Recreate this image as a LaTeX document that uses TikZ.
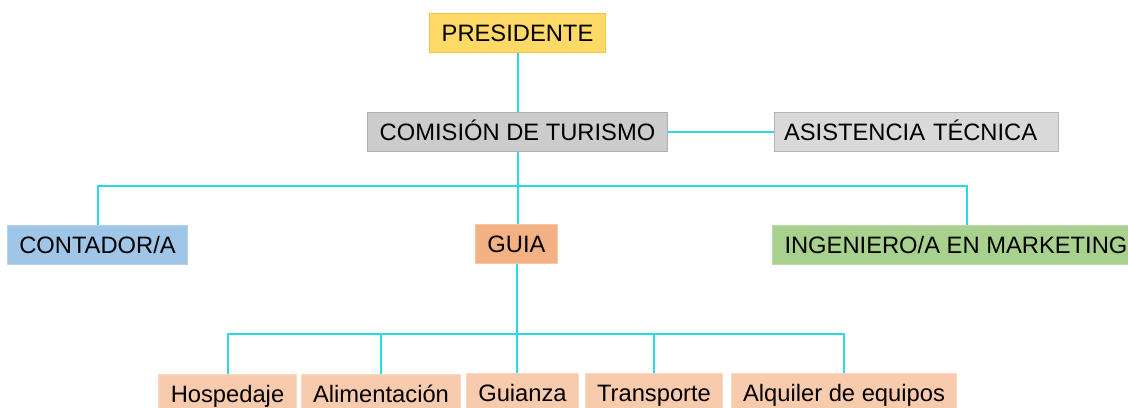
\documentclass[tikz,border=0pt]{standalone}
\usepackage{fontspec}
\setmainfont{Liberation Sans}
\usetikzlibrary{positioning}
\definecolor{linkcyan}{RGB}{43,218,228}
\definecolor{presfill}{HTML}{FFD966}
\definecolor{presline}{HTML}{F4C542}
\definecolor{comfill}{HTML}{CCCCCC}
\definecolor{comline}{HTML}{AFAFAF}
\definecolor{asisfill}{HTML}{D9D9D9}
\definecolor{asisline}{HTML}{B5B5B5}
\definecolor{contfill}{HTML}{9FC5E8}
\definecolor{contline}{HTML}{B4D2EE}
\definecolor{guiafill}{HTML}{F4B183}
\definecolor{guialine}{HTML}{F8C9A6}
\definecolor{ingfill}{HTML}{A9D18E}
\definecolor{ingline}{HTML}{BEDCAA}
\definecolor{subfill}{HTML}{F8CBAD}
\definecolor{subline}{HTML}{FAD9C2}
\tikzstyle{orgbox}  = [draw, line width=0.75pt, minimum height=29.25pt, inner xsep=9pt, inner ysep=0pt, text height=13.2pt, text depth=0pt, text=black, font=\fontsize{17.8}{20}\selectfont]
\tikzstyle{subbox}  = [orgbox, fill=subfill, draw=subline]
\tikzstyle{edge}    = [line width=1.5pt, color=linkcyan]

\begin{document}
\begin{tikzpicture}[x=0.75pt, y=-0.75pt]
\useasboundingbox (0,0) rectangle (1128,407);

\node[orgbox, fill=presfill, draw=presline] (PRES) at (517.5,32.5) {PRESIDENTE};
\node[orgbox, fill=comfill, draw=comline] (COM) at (517.5,132) {COMISIÓN DE TURISMO};
\node[orgbox, fill=asisfill, draw=asisline, inner xsep=7.5pt, text width=198pt, align=left] (ASIS) at (916,132) {ASISTENCIA TÉCNICA};

\node[orgbox, fill=contfill, draw=contline] (CONT) at (97.5,244.5) {CONTADOR/A};
\node[orgbox, fill=guiafill, draw=guialine] (GUIA) at (516.5,243.5) {GUIA};
\node[orgbox, fill=ingfill, draw=ingline, anchor=west] (ING) at (772,244.5) {INGENIERO/A EN MARKETING};

\node[subbox] (HOSP) at (227.5,393.5) {Hospedaje};
\node[subbox] (ALIM) at (381,393.5) {Alimentación};
\node[subbox] (GUIANZA) at (522.5,392.5) {Guianza};
\node[subbox] (TRANS) at (654,392.5) {Transporte};
\node[subbox] (ALQ) at (844,392.5) {Alquiler de equipos};

\coordinate (BUS1) at (517,186);
\coordinate (MKT) at (967,225);
\coordinate (BUS2) at (517,334);

\draw[edge] (PRES.south) -- (PRES.south |- COM.north);
\draw[edge] (COM.east) -- (ASIS.west);
\draw[edge] (COM.south) -- (COM.south |- GUIA.north);
\draw[edge] (CONT.north) |- (BUS1) -| (MKT);

\draw[edge] (GUIA.south) -- (GUIA.south |- GUIANZA.north);
\draw[edge] (HOSP.north) |- (BUS2) -| (ALQ.north);
\foreach \n in {ALIM, TRANS}
  \draw[edge] (\n.north) -- (\n.north |- BUS2);

\end{tikzpicture}
\end{document}
